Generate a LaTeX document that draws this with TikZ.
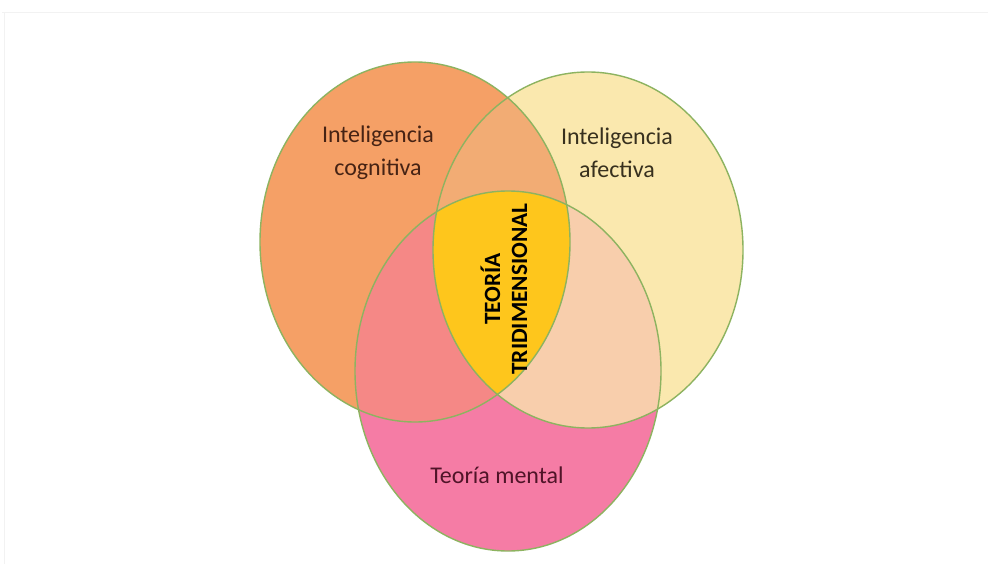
\documentclass[tikz,border=0pt]{standalone}
\usepackage{fontspec}
\setmainfont{Carlito}
\definecolor{cOrange}{RGB}{245,160,102}
\definecolor{cYellow}{RGB}{250,232,174}
\definecolor{cPink}{RGB}{245,124,165}
\definecolor{cLR}{RGB}{242,172,116}
\definecolor{cLB}{RGB}{245,136,134}
\definecolor{cRB}{RGB}{248,206,172}
\definecolor{cGold}{RGB}{254,198,28}
\definecolor{cEdge}{RGB}{141,179,96}
\definecolor{cFrame}{RGB}{242,242,242}
\definecolor{tLeft}{RGB}{70,35,20}
\definecolor{tRight}{RGB}{55,48,30}
\definecolor{tBottom}{RGB}{80,20,40}
\tikzset{
  edge/.style={draw=cEdge, line width=1.4pt},
  lbl/.style={align=center, font=\fontsize{24}{33}\selectfont, inner sep=0pt},
  ctr/.style={align=center, font=\fontsize{23.3}{27}\bfseries\selectfont, inner sep=0pt, rotate=90}
}
\begin{document}
\begin{tikzpicture}[x=1pt,y=-1pt]
\useasboundingbox (0,0) rectangle (988,564);
\fill[white] (0,0) rectangle (988,564);
\draw[cFrame, line width=1pt] (2,13) -- (988,13);
\draw[cFrame, line width=1pt] (4,13) -- (4,564);
\coordinate (L) at (415,242);
\coordinate (R) at (588,250);
\coordinate (B) at (508,371);
\def\ellL{(L) ellipse [x radius=155, y radius=180]}
\def\ellR{(R) ellipse [x radius=155, y radius=178]}
\def\ellB{(B) ellipse [x radius=153, y radius=180]}
\fill[cOrange] \ellL;
\fill[cYellow] \ellR;
\fill[cPink] \ellB;
\begin{scope}
  \clip \ellL; \fill[cLR] \ellR;
\end{scope}
\begin{scope}
  \clip \ellL; \fill[cLB] \ellB;
\end{scope}
\begin{scope}
  \clip \ellR; \fill[cRB] \ellB;
\end{scope}
\begin{scope}
  \clip \ellL; \clip \ellR; \fill[cGold] \ellB;
\end{scope}
\draw[edge] \ellL;
\draw[edge] \ellR;
\draw[edge] \ellB;
\node[lbl, text=tLeft] (cog) at (378,153) {Inteligencia\\cognitiva};
\node[lbl, text=tRight] (afe) at (617,153) {Inteligencia\\afectiva};
\node[lbl, text=tBottom] (men) at (497,475) {Teoría mental};
\node[ctr, text=black] (tri) at (504,289) {TEORÍA\\TRIDIMENSIONAL};
\end{tikzpicture}
\end{document}
